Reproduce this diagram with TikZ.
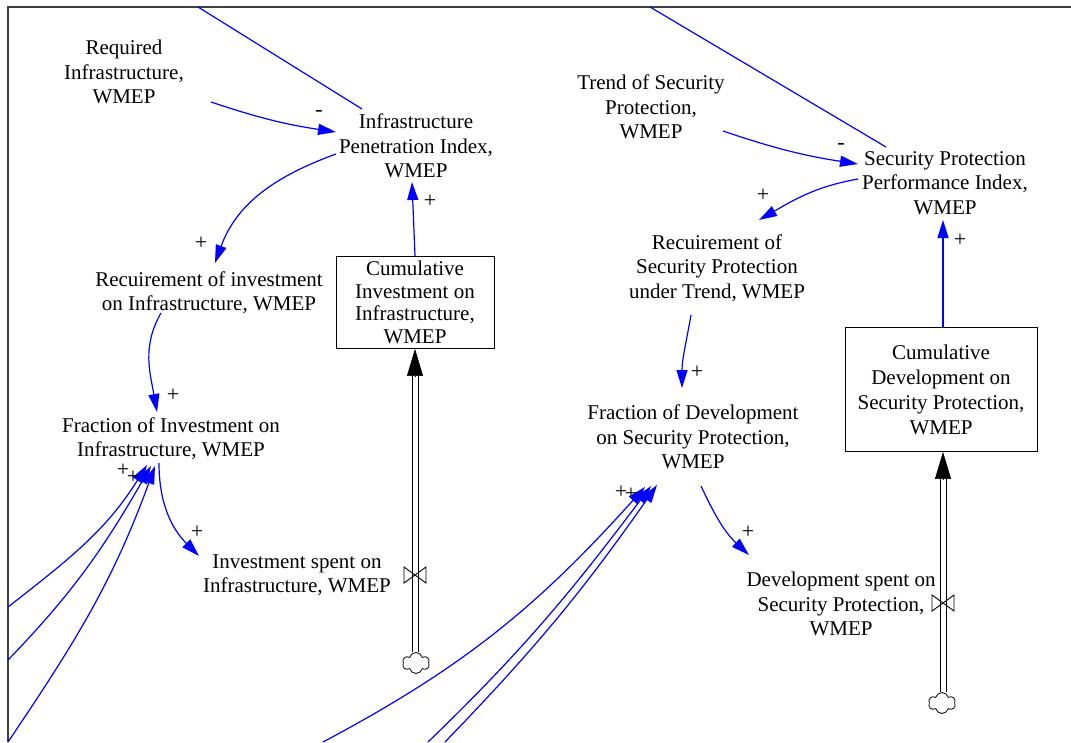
\documentclass[tikz,border=0pt]{standalone}
\usepackage{fontspec}
\setmainfont{Liberation Serif}
\usetikzlibrary{arrows.meta,shapes.symbols}
\begin{document}
\begin{tikzpicture}[x=1pt,y=1pt,
  lab/.style={font=\fontsize{21}{24.3}\selectfont, align=center, inner sep=0pt},
  stock/.style={lab, draw, line width=0.9pt},
  link/.style={blue, line width=1.2pt, -{Triangle[length=18pt,width=11pt]}},
  plainlink/.style={blue, line width=1.2pt},
  pol/.style={font=\fontsize{22}{22}\selectfont, inner sep=0pt},
  pipeline/.style={black, line width=0.9pt},
  flowhead/.style={black, line width=0.6pt, -{Triangle[length=27pt,width=16pt]}},
  valve/.style={black, line width=0.9pt},
  cloudy/.style={cloud, cloud puffs=6, aspect=1.3, draw, line width=0.8pt, minimum width=27pt, minimum height=21pt, inner sep=0pt},
  framecol/.style={black!75, line width=1.5pt}
  ]
\useasboundingbox (0,0) rectangle (1071,-742);
% frame
\draw[framecol] (8,-742) -- (8,-7) -- (1071,-7);

% free ends
\coordinate (top1) at (198,-7);
\coordinate (top2) at (650,-7);
\coordinate (L1) at (8,-607);
\coordinate (L2) at (8,-660);
\coordinate (L3) at (8,-742);
\coordinate (B1) at (323,-742);
\coordinate (B2) at (428,-742);
\coordinate (B3) at (445,-742);

% left part nodes
\node[lab] (req) at (124,-72) {Required\\Infrastructure,\\WMEP};
\node[lab] (ipi) at (416,-146) {Infrastructure\\Penetration Index,\\WMEP};
\node[lab] (rinv) at (209,-293) {Recuirement of investment\\on Infrastructure, WMEP};
\node[stock, font=\fontsize{21}{22.7}\selectfont, minimum width=158pt, minimum height=92pt] (cinv) at (415,-302.5) {Cumulative\\Investment on\\Infrastructure,\\WMEP};
\node[lab] (finv) at (171,-439) {Fraction of Investment on\\Infrastructure, WMEP};
\node[lab] (isp) at (297,-575) {Investment spent on\\Infrastructure, WMEP};
\node[cloudy] (cl1) at (416,-663) {};
\coordinate (v1) at (415,-575);

% right part nodes
\node[lab] (trend) at (651,-107) {Trend of Security\\Protection,\\WMEP};
\node[lab] (sppi) at (945,-183) {Security Protection\\Performance Index,\\WMEP};
\node[lab] (rsp) at (717,-268) {Recuirement of\\Security Protection\\under Trend, WMEP};
\node[stock, font=\fontsize{21}{25}\selectfont, minimum width=192pt, minimum height=124pt] (cdev) at (941,-389.5) {Cumulative\\Development on\\Security Protection,\\WMEP};
\node[lab] (fdev) at (693,-437) {Fraction of Development\\on Security Protection,\\WMEP};
\node[lab] (dsp) at (841,-604) {Development spent on\\Security Protection,\\WMEP};
\node[cloudy] (cl2) at (942,-703) {};
\coordinate (v2) at (943,-603);

% flows (left)
\draw[pipeline] ([xshift=-3]cinv.south |- cl1.north) -- ([shift={(-3,-27)}]cinv.south);
\draw[pipeline] ([xshift=3]cinv.south |- cl1.north) -- ([shift={(3,-27)}]cinv.south);
\draw[flowhead] ([yshift=-27]cinv.south) -- (cinv.south);
\draw[valve] ([shift={(-11,8)}]v1) -- ([shift={(-11,-8)}]v1) -- ([shift={(11,8)}]v1) -- ([shift={(11,-8)}]v1) -- cycle;

% flows (right)
\coordinate (p2) at (cdev.south -| v2);
\draw[pipeline] ([xshift=-3]p2 |- cl2.north) -- ([shift={(-3,-27)}]p2);
\draw[pipeline] ([xshift=3]p2 |- cl2.north) -- ([shift={(3,-27)}]p2);
\draw[flowhead] ([yshift=-27]p2) -- (p2);
\draw[valve] ([shift={(-11,8)}]v2) -- ([shift={(-11,-8)}]v2) -- ([shift={(11,8)}]v2) -- ([shift={(11,-8)}]v2) -- cycle;

% links left
\draw[plainlink] (top1) -- ([shift={(-54,37)}]ipi.center);
\draw[link] ([shift={(87,-30)}]req.center) to[bend right=5] ([shift={(-80,14)}]ipi.center);
\node[pol] at (319,-113) {-};
\draw[link] ([shift={(-80,-8)}]ipi.center) to[out=200,in=70] ([shift={(6,30)}]rinv.center);
\node[pol] at (201,-243) {+};
\draw[link] (cinv.north) -- ([shift={(-4,-36)}]ipi.center);
\node[pol] at (430,-201) {+};
\draw[link] ([shift={(-48,-20)}]rinv.center) to[out=240,in=100] ([shift={(-14,27)}]finv.center);
\node[pol] at (173,-395) {+};
\draw[link] ([shift={(-12,-24)}]finv.center) to[out=-90,in=135] ([shift={(-98,19)}]isp.center);
\node[pol] at (197,-532) {+};
\draw[link] (L1) to[out=38,in=238] ([shift={(-24,-26)}]finv.center);
\draw[link] (L2) to[out=46,in=240] ([shift={(-20,-27)}]finv.center);
\draw[link] (L3) to[out=56,in=250] ([shift={(-16,-27)}]finv.center);
\node[pol] at (123,-470) {+};
\node[pol] at (133,-477) {+};

% links right
\draw[plainlink] (top2) -- ([shift={(-59,36)}]sppi.center);
\draw[link] ([shift={(72,-24)}]trend.center) to[bend right=5] ([shift={(-87,19)}]sppi.center);
\node[pol] at (841,-146) {-};
\draw[link] ([shift={(-87,4)}]sppi.center) to[out=190,in=30] ([shift={(42,48)}]rsp.center);
\node[pol] at (763,-195) {+};
\draw[link] (cdev.north -| v2) -- ([shift={(-2,-37)}]sppi.center);
\node[pol] at (960,-240) {+};
\draw[link] ([shift={(-26,-47)}]rsp.center) to[out=-100,in=90] ([shift={(-11,49)}]fdev.center);
\node[pol] at (697,-372) {+};
\draw[link] ([shift={(8,-49)}]fdev.center) to[out=-65,in=137] ([shift={(-92,49)}]dsp.center);
\node[pol] at (748,-532) {+};
\draw[link] (B1) to[out=28,in=228] ([shift={(-48,-50)}]fdev.center);
\draw[link] (B2) to[out=44,in=233] ([shift={(-42,-49)}]fdev.center);
\draw[link] (B3) to[out=46,in=235] ([shift={(-36,-48)}]fdev.center);
\node[pol] at (621,-492) {+};
\node[pol] at (631,-494) {+};
\end{tikzpicture}
\end{document}
